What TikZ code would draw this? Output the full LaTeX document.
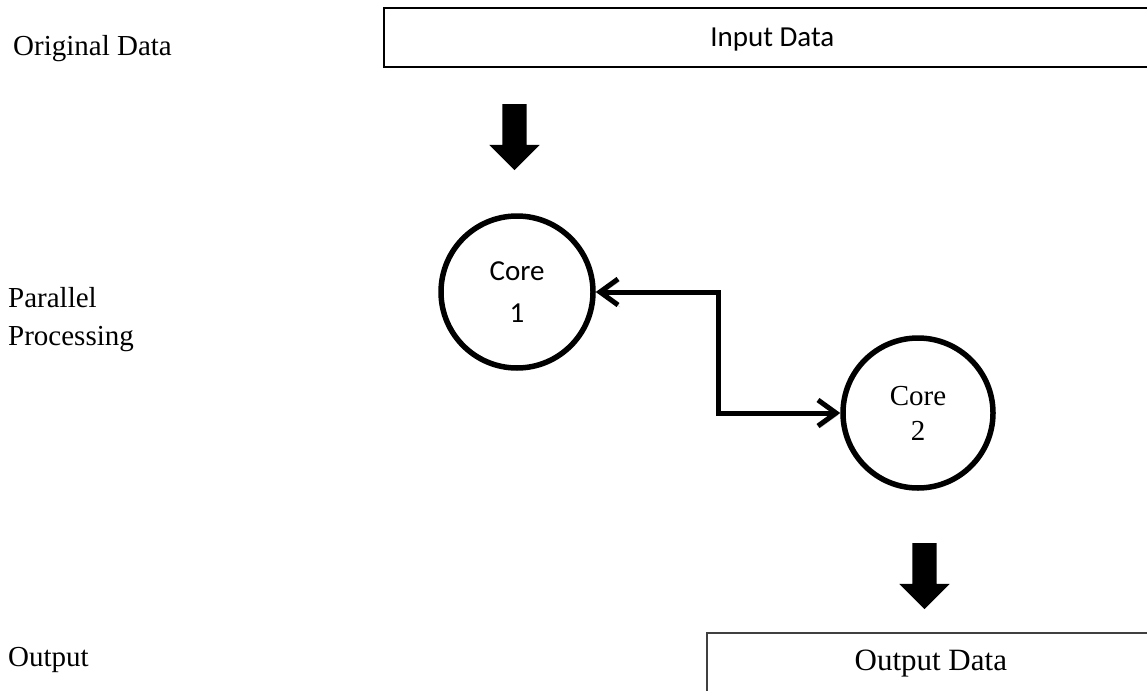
\documentclass[tikz,border=0pt]{standalone}
\usepackage{fontspec}
\setmainfont{Liberation Serif}
\newfontfamily\calibri{Carlito}
\usetikzlibrary{arrows.meta,shapes.arrows}

\begin{document}
\begin{tikzpicture}[x=1pt,y=-1pt,
  lbl/.style={anchor=base west, inner sep=0pt, font=\fontsize{29}{38}\selectfont, align=left},
  databox/.style={draw, rectangle, inner xsep=0pt, inner ysep=0pt, anchor=north west, line width=1.6pt},
  core/.style={draw, circle, line width=5.5pt, inner sep=0pt, align=center},
  blockarrow/.style={single arrow, fill=black, draw=none, rotate=-90,
    inner xsep=0pt, inner ysep=12pt,
    minimum height=66pt, minimum width=50pt, single arrow head extend=13pt},
  link/.style={line width=5pt, {Straight Barb[length=18pt,width=26pt]}-{Straight Barb[length=18pt,width=26pt]},
    preaction={draw=black!22, transform canvas={shift={(2pt,-2pt)}}}}
]
\useasboundingbox (0,0) rectangle (1147,690);
\clip (0,0) rectangle (1147,690);

% stage labels on the left
\node[lbl] (orig) at (13,56) {Original Data};
\node[lbl] (para) at (8,345) {Parallel\\Processing};
\node[lbl] (outl) at (8,666) {Output};

% input and output bars
\node[databox, minimum width=777pt, text height=39pt, text depth=20pt,
      font=\calibri\fontsize{29}{35}\selectfont] (input) at (383,7) {Input Data};
\node[databox, draw=black!75, minimum width=448pt, text height=38pt, text depth=40pt,
      font=\fontsize{31}{37}\selectfont] (output) at (706,632) {Output Data};

% flow arrows
\node[blockarrow] (down1) at (514.5,131) {};
\node[blockarrow] (down2) at (924.5,570) {};

% processing cores
\node[core, minimum size=152pt, font=\calibri\fontsize{29}{42}\selectfont] (core1) at (517,292) {Core\\1};
\node[core, minimum size=150pt, font=\fontsize{29}{35}\selectfont] (core2) at (918,413) {Core\\2};

% exchange between the cores
\coordinate (elbow) at (718,350);
\draw[link] (core1.east) -| (elbow) |- (core2.west);
\end{tikzpicture}
\end{document}
